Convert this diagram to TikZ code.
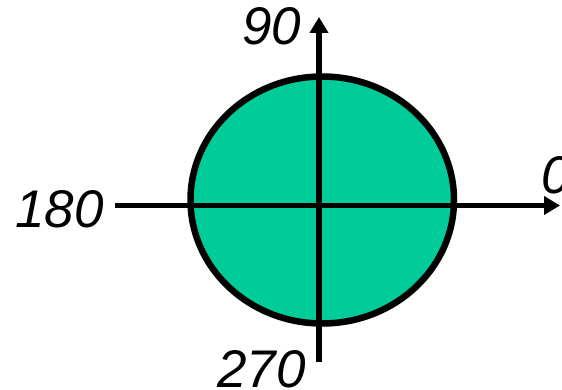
\documentclass[tikz,border=0pt]{standalone}
\usepackage{fontspec}
\setmainfont{Liberation Sans}
\usetikzlibrary{arrows.meta}
\definecolor{disk}{HTML}{00CC99}
\begin{document}
\begin{tikzpicture}[x=1pt,y=-1pt,
  axis/.style={line width=5.5pt,-{Triangle[width=18pt,length=16pt]}},
  lbl/.style={inner sep=0pt,anchor=base west,font=\fontsize{53}{60}\selectfont\itshape}]
\useasboundingbox (0,0) rectangle (562,390);
\fill[disk] (322.25,200) ellipse [x radius=131.75, y radius=123.5];
\coordinate (hl) at (115,205.5);
\coordinate (hr) at (560,205.5);
\coordinate (vb) at (319,362);
\coordinate (vt) at (319,17);
\draw[axis] (hl) -- (hr);
\draw[axis] (vb) -- (vt);
\draw[line width=6.5pt] (322.25,200) ellipse [x radius=131.75, y radius=123.5];
\node[lbl] (l90) at (242,45) {90};
\node[lbl] (l180) at (15,227) {180};
\node[lbl] (l270) at (217,387) {270};
\node[lbl] (l0) at (541,194) {0};
\end{tikzpicture}
\end{document}
